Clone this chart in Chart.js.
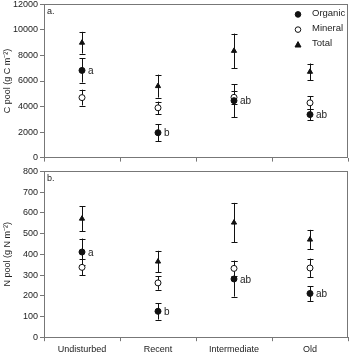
<!DOCTYPE html>
<html lang="en">
<head>
<meta charset="UTF-8">
<title>C and N pools</title>
<script src="https://cdn.jsdelivr.net/npm/chart.js@4.4.1/dist/chart.umd.min.js"></script>
<style>
  html, body { margin: 0; padding: 0; background: #fff; }
  body { width: 353px; height: 352px; position: relative; overflow: hidden; }
  .panel { position: absolute; left: 0; width: 353px; }
  #wrapC { top: -3px; height: 168px; }
  #wrapN { top: 164px; height: 194px; }
</style>
</head>
<body>
<div class="panel" id="wrapC"><canvas id="chartC"></canvas></div>
<div class="panel" id="wrapN"><canvas id="chartN"></canvas></div>
<script>
  var categories = ['Undisturbed', 'Recent', 'Intermediate', 'Old'];
  var seriesNames = ['Organic', 'Mineral', 'Total'];
  var sigLetters = ['a', 'b', 'ab', 'ab'];

  // C pool (g C m-2), mean and error
  var cOrganic = [6830, 1950, 4460, 3370];
  var cOrganicErr = [950, 650, 1300, 450];
  var cMineral = [4700, 3900, 4720, 4290];
  var cMineralErr = [620, 490, 520, 500];
  var cTotal = [9000, 5600, 8360, 6720];
  var cTotalErr = [850, 900, 1350, 650];
  var cTicks = [0, 2000, 4000, 6000, 8000, 10000, 12000];

  // N pool (g N m-2)
  var nOrganic = [411, 125, 281, 211];
  var nOrganicErr = [65, 40, 85, 36];
  var nMineral = [337, 262, 332, 334];
  var nMineralErr = [38, 33, 38, 45];
  var nTotal = [572, 365, 553, 471];
  var nTotalErr = [60, 52, 95, 47];
  var nTicks = [0, 100, 200, 300, 400, 500, 600, 700, 800];

  var FONT = 'Liberation Sans, Arial, Helvetica, sans-serif';
  Chart.defaults.font.family = FONT;
  Chart.defaults.font.size = 9;
  Chart.defaults.color = '#222';

  var frame = {
    id: 'frame',
    afterDraw: function(chart) {
      var a = chart.chartArea, ctx = chart.ctx;
      ctx.save();
      ctx.strokeStyle = '#777';
      ctx.lineWidth = 1;
      ctx.strokeRect(Math.round(a.left) + 0.5, Math.round(a.top) + 0.5,
        Math.round(a.right - a.left) - 1, Math.round(a.bottom - a.top));
      ctx.restore();
    }
  };

  // error bars, letters and key, all placed through the chart scales
  var errorBars = {
    id: 'errorBars',
    beforeDatasetsDraw: function(chart) {
      var ctx = chart.ctx, y = chart.scales.y;
      ctx.save();
      ctx.strokeStyle = '#111';
      ctx.lineWidth = 1;
      chart.data.datasets.forEach(function(ds, i) {
        var meta = chart.getDatasetMeta(i);
        meta.data.forEach(function(pt, j) {
          var v = ds.data[j], e = ds.err[j];
          var x = Math.round(pt.x) + 0.5;
          var yt = y.getPixelForValue(v + e), yb = y.getPixelForValue(v - e);
          ctx.beginPath();
          ctx.moveTo(x, yt); ctx.lineTo(x, yb);
          ctx.moveTo(x - 3, Math.round(yt) + 0.5); ctx.lineTo(x + 3, Math.round(yt) + 0.5);
          ctx.moveTo(x - 3, Math.round(yb) + 0.5); ctx.lineTo(x + 3, Math.round(yb) + 0.5);
          ctx.stroke();
        });
      });
      ctx.restore();
    },
    afterDatasetsDraw: function(chart) {
      var ctx = chart.ctx;
      var meta = chart.getDatasetMeta(0);
      ctx.save();
      ctx.fillStyle = '#222';
      ctx.font = '10px ' + FONT;
      ctx.textBaseline = 'middle';
      meta.data.forEach(function(pt, j) {
        ctx.fillText(sigLetters[j], pt.x + 6, pt.y + 1);
      });
      ctx.font = '9px ' + FONT;
      ctx.textBaseline = 'top';
      ctx.fillText(chart.options.panelLabel, chart.chartArea.left + 3, chart.chartArea.top + 3);
      if (chart.options.showKey) {
        chart.data.datasets.forEach(function(ds, i) {
          var ky = chart.chartArea.top + 10 + i * 15.2;
          ctx.fillStyle = ds.pointBackgroundColor;
          ctx.strokeStyle = '#111';
          ctx.lineWidth = 1;
          ctx.beginPath();
          if (ds.pointStyle === 'triangle') {
            ctx.moveTo(298, ky - 3.2); ctx.lineTo(301, ky + 2.2); ctx.lineTo(295, ky + 2.2); ctx.closePath();
          } else {
            ctx.arc(298, ky, 2.8, 0, Math.PI * 2);
          }
          ctx.fill(); ctx.stroke();
          ctx.fillStyle = '#222';
          ctx.textBaseline = 'middle';
          ctx.font = '9.5px ' + FONT;
          ctx.fillText(ds.label, 312, ky - 1);
        });
      }
      ctx.restore();
    }
  };

  function makeSet(label, data, err, style, fill) {
    return {
      label: label, data: data, err: err,
      showLine: false,
      pointStyle: style,
      pointRadius: 3,
      pointBorderWidth: 1,
      pointBorderColor: '#111',
      pointBackgroundColor: fill
    };
  }

  function makeChart(id, sets, ticks, title, panelLabel, showX, showKey) {
    return new Chart(document.getElementById(id), {
      type: 'line',
      data: { labels: categories, datasets: sets },
      options: {
        responsive: true,
        maintainAspectRatio: false,
        animation: false,
        panelLabel: panelLabel,
        showKey: showKey,
        layout: { padding: { right: 1, top: 0, left: 0, bottom: 0 } },
        plugins: { legend: { display: false }, tooltip: { enabled: false } },
        scales: {
          x: {
            type: 'category',
            offset: true,
            border: { display: false },
            grid: { offset: true, drawOnChartArea: false, tickLength: 4, color: '#777' },
            ticks: { display: showX, padding: 3, font: { size: 9 } }
          },
          y: {
            min: ticks[0], max: ticks[ticks.length - 1],
            afterBuildTicks: function(s) { s.ticks = ticks.map(function(v) { return { value: v }; }); },
            afterFit: function(s) { s.width = 44; },
            border: { display: false },
            grid: { drawOnChartArea: false, tickLength: 4, color: '#777' },
            ticks: { padding: 2, font: { size: 9 }, callback: function(v) { return String(v); } },
            title: { display: true, text: title, font: { size: 9 }, padding: { top: 2, bottom: 0 } }
          }
        }
      },
      plugins: [frame, errorBars]
    });
  }

  makeChart('chartC', [
    makeSet(seriesNames[0], cOrganic, cOrganicErr, 'circle', '#111'),
    makeSet(seriesNames[1], cMineral, cMineralErr, 'circle', '#fff'),
    makeSet(seriesNames[2], cTotal, cTotalErr, 'triangle', '#111')
  ], cTicks, 'C pool (g C m\u207B\u00B2)', 'a.', false, true);

  makeChart('chartN', [
    makeSet(seriesNames[0], nOrganic, nOrganicErr, 'circle', '#111'),
    makeSet(seriesNames[1], nMineral, nMineralErr, 'circle', '#fff'),
    makeSet(seriesNames[2], nTotal, nTotalErr, 'triangle', '#111')
  ], nTicks, 'N pool (g N m\u207B\u00B2)', 'b.', true, false);
</script>
</body>
</html>
